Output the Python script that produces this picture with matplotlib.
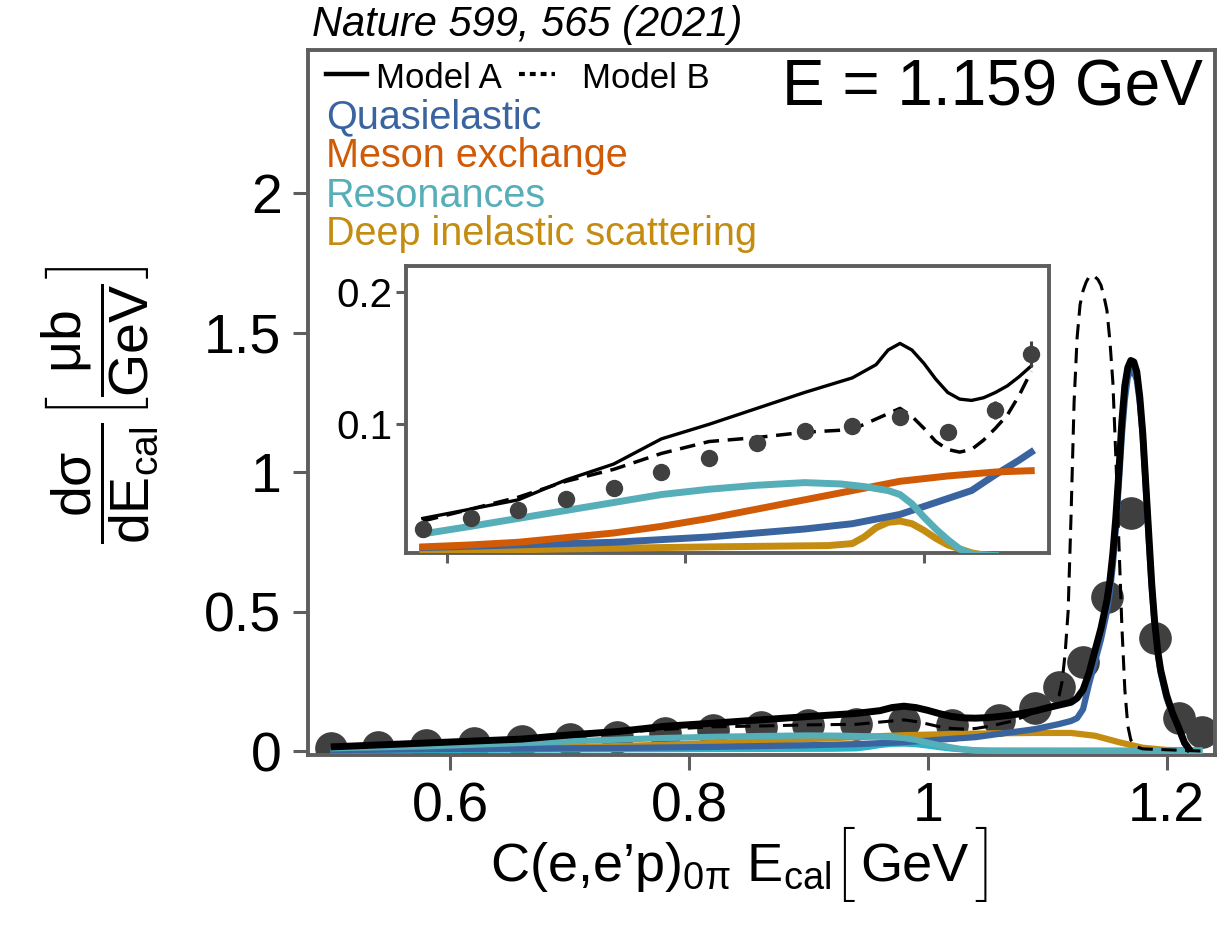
import matplotlib
matplotlib.use("Agg")
import matplotlib.pyplot as plt
from matplotlib.lines import Line2D

plt.rcParams['font.family'] = ['Liberation Sans', 'DejaVu Sans']
plt.rcParams['mathtext.fontset'] = 'custom'
plt.rcParams['mathtext.rm'] = 'Liberation Sans'
plt.rcParams['mathtext.it'] = 'Liberation Sans:italic'
plt.rcParams['mathtext.bf'] = 'Liberation Sans:bold'

# ---------------- data ----------------
data_x = [0.50, 0.54, 0.58, 0.62, 0.66, 0.70, 0.74, 0.78, 0.82, 0.86, 0.90, 0.94,
          0.98, 1.02, 1.06, 1.09, 1.11, 1.13, 1.15, 1.17, 1.19, 1.21, 1.23]
data_y = [0.012, 0.016, 0.021, 0.0296, 0.0354, 0.0437, 0.052, 0.0638, 0.0744, 0.0861,
          0.0947, 0.0987, 0.1053, 0.0942, 0.1108, 0.153, 0.229, 0.319, 0.552, 0.853,
          0.405, 0.12, 0.07]
data_err = [0.002, 0.002, 0.002, 0.002, 0.002, 0.003, 0.003, 0.003, 0.003, 0.004,
            0.004, 0.004, 0.005, 0.005, 0.007, 0.010, 0.012, 0.015, 0.02, 0.03,
            0.02, 0.01, 0.008]

modelA_x = [0.50, 0.58, 0.62, 0.66, 0.70, 0.74, 0.78, 0.82, 0.86, 0.90, 0.94, 0.96,
            0.97, 0.98, 0.99, 1.00, 1.01, 1.02, 1.03, 1.04, 1.05, 1.06, 1.07, 1.08,
            1.09, 1.10, 1.11, 1.12, 1.125, 1.13, 1.135, 1.14, 1.145, 1.15, 1.1525,
            1.155, 1.1575, 1.16, 1.1625, 1.165, 1.1675, 1.17, 1.1725, 1.175, 1.1775,
            1.18, 1.1825, 1.185, 1.1875, 1.19, 1.1925, 1.195, 1.20, 1.205, 1.21,
            1.215, 1.22]
modelA_y = [0.015, 0.029, 0.036, 0.043, 0.058, 0.070, 0.089, 0.100, 0.112, 0.124,
            0.135, 0.145, 0.156, 0.161, 0.156, 0.146, 0.134, 0.124, 0.119, 0.118,
            0.120, 0.124, 0.129, 0.136, 0.144, 0.155, 0.165, 0.175, 0.19, 0.22,
            0.28, 0.36, 0.44, 0.54, 0.61, 0.71, 0.84, 1.0, 1.18, 1.31, 1.375, 1.40,
            1.395, 1.36, 1.27, 1.14, 0.96, 0.78, 0.60, 0.46, 0.36, 0.29, 0.20, 0.135,
            0.085, 0.03, 0.0]

modelB_x = [0.50, 0.58, 0.62, 0.66, 0.70, 0.74, 0.78, 0.82, 0.86, 0.90, 0.94, 0.96,
            0.98, 0.99, 1.00, 1.01, 1.02, 1.03, 1.04, 1.05, 1.06, 1.07, 1.08, 1.09,
            1.10, 1.105, 1.11, 1.1125, 1.115, 1.1175, 1.12, 1.1225, 1.125, 1.1275,
            1.13, 1.1325, 1.135, 1.1375, 1.14, 1.1425, 1.145, 1.1475, 1.15, 1.1525,
            1.155, 1.1575, 1.16, 1.1625, 1.165, 1.1675, 1.17, 1.175, 1.18, 1.23]
modelB_y = [0.014, 0.027, 0.036, 0.045, 0.057, 0.066, 0.078, 0.087, 0.090, 0.094,
            0.096, 0.104, 0.112, 0.106, 0.097, 0.087, 0.081, 0.079, 0.081, 0.088,
            0.097, 0.107, 0.122, 0.140, 0.15, 0.165, 0.20, 0.25, 0.35, 0.50, 0.85,
            1.25, 1.48, 1.60, 1.65, 1.68, 1.70, 1.706, 1.70, 1.69, 1.67, 1.63, 1.58,
            1.47, 1.32, 1.05, 0.75, 0.45, 0.22, 0.09, 0.04, 0.015, 0.008, 0.0]

qe_x = [0.50, 0.58, 0.66, 0.74, 0.82, 0.90, 0.94, 0.98, 1.02, 1.04, 1.06, 1.08,
        1.09, 1.10, 1.11, 1.12, 1.125, 1.13, 1.135, 1.14, 1.145, 1.15, 1.1525,
        1.155, 1.1575, 1.16, 1.1625, 1.165, 1.1675, 1.17, 1.1725, 1.175, 1.1775,
        1.18, 1.1825, 1.185, 1.1875, 1.19, 1.1925, 1.195, 1.20, 1.205, 1.21, 1.215,
        1.22]
qe_y = [0.003, 0.007, 0.009, 0.011, 0.015, 0.021, 0.025, 0.032, 0.044, 0.050, 0.062,
        0.073, 0.079, 0.088, 0.097, 0.108, 0.118, 0.15, 0.24, 0.32, 0.40, 0.50, 0.57,
        0.67, 0.80, 0.96, 1.13, 1.26, 1.34, 1.365, 1.36, 1.33, 1.25, 1.13, 0.95,
        0.76, 0.59, 0.45, 0.35, 0.28, 0.19, 0.13, 0.082, 0.027, 0.0]

mec_x = [0.50, 0.58, 0.62, 0.66, 0.70, 0.74, 0.78, 0.82, 0.86, 0.90, 0.94, 0.98,
         1.02, 1.06, 1.09, 1.12, 1.14, 1.16, 1.18, 1.20, 1.23]
mec_y = [0.004, 0.0075, 0.009, 0.011, 0.0145, 0.018, 0.023, 0.029, 0.036, 0.043,
         0.050, 0.057, 0.061, 0.064, 0.065, 0.065, 0.055, 0.032, 0.012, 0.004, 0.002]

res_x = [0.50, 0.58, 0.62, 0.66, 0.70, 0.74, 0.78, 0.82, 0.86, 0.90, 0.93, 0.95,
         0.97, 0.98, 0.99, 1.00, 1.01, 1.02, 1.03, 1.04, 1.06, 1.23]
res_y = [0.010, 0.0173, 0.023, 0.029, 0.035, 0.041, 0.047, 0.051, 0.054, 0.056,
         0.055, 0.053, 0.050, 0.047, 0.040, 0.030, 0.021, 0.013, 0.006, 0.002,
         0.001, 0.001]

dis_x = [0.50, 0.58, 0.70, 0.82, 0.92, 0.94, 0.95, 0.96, 0.97, 0.98, 0.99, 1.00,
         1.01, 1.02, 1.03, 1.04, 1.05, 1.23]
dis_y = [0.002, 0.004, 0.006, 0.0075, 0.0085, 0.010, 0.015, 0.022, 0.026, 0.027,
         0.025, 0.020, 0.014, 0.009, 0.006, 0.003, 0.0015, 0.001]

component_labels = ["Quasielastic", "Meson exchange", "Resonances",
                    "Deep inelastic scattering"]

# inset shows the model curves only over this range
inset_curve_range = (0.58, 1.09)

# ---------------- styles ----------------
C_QE = "#3a64a0"
C_MEC = "#d05a06"
C_RES = "#56aeb8"
C_DIS = "#c48c10"
C_MAIN_MEC = "#c48c10"
C_MAIN_DIS = "#2ab4c8"
C_PT = "#404040"
C_SP = "#5e5e5e"

W, H = 1229, 926
fig = plt.figure(figsize=(W / 100, H / 100), dpi=100)


def fx(px):
    return px / W


def fy(py):
    return 1 - py / H


def window(xs, ys, lo, hi):
    pairs = [(a, b) for a, b in zip(xs, ys) if lo <= a <= hi]
    return [p[0] for p in pairs], [p[1] for p in pairs]


# ---------------- main axes ----------------
ax = fig.add_axes([fx(308), fy(755), (1215 - 308) / W, (755 - 50) / H])
ax.set_xlim(0.481, 1.2405)
ax.set_ylim(-0.014, 2.513)

ax.errorbar(data_x, data_y, yerr=data_err, fmt='o', ms=22.5, color=C_PT,
            ecolor=C_PT, elinewidth=2, capsize=0, zorder=2)
ax.plot(mec_x, mec_y, color=C_MAIN_MEC, lw=4.5, zorder=3, solid_capstyle='butt')
ax.plot(dis_x, dis_y, color=C_MAIN_DIS, lw=4.5, zorder=3, solid_capstyle='butt')
ax.plot(qe_x, qe_y, color=C_QE, lw=4.5, zorder=3, solid_capstyle='butt')
ax.plot(res_x, res_y, color=C_RES, lw=4.5, zorder=3.5, solid_capstyle='butt')
ax.plot(modelB_x, modelB_y, color='black', lw=2.2, ls=(0, (5, 2.8)), zorder=4)
ax.plot(modelA_x, modelA_y, color='black', lw=5, zorder=5, solid_capstyle='butt')

ax.set_xticks([0.6, 0.8, 1.0, 1.2])
ax.set_xticklabels(["0.6", "0.8", "1", "1.2"])
ax.set_yticks([0, 0.5, 1.0, 1.5, 2.0])
ax.set_yticklabels(["0", "0.5", "1", "1.5", "2"])
ax.tick_params(axis='both', labelsize=40, length=11, width=2.2, color=C_SP,
               pad=8)
for s in ax.spines.values():
    s.set_color(C_SP)
    s.set_linewidth(2.8)

# ---------------- axis labels ----------------
renderer = fig.canvas.get_renderer()
xcur = 490
xlabel_pieces = [
    (r"C(e,e’p)$_{\mathrm{0π}}$ E$_{\mathrm{cal}}$", 39, 881, 0, 'normal'),
    ("[", 56, 890, 5, 'light'),
    ("GeV", 39, 881, 7, 'normal'),
    ("]", 56, 890, 7, 'light'),
]
for txt, fs, base, gap, wt in xlabel_pieces:
    xcur += gap
    fam = ['Roboto', 'Liberation Sans'] if txt in "[]" else ['Liberation Sans', 'DejaVu Sans']
    t = fig.text(fx(xcur), fy(base), txt, fontsize=fs, ha='left',
                 va='baseline', family=fam, fontweight=wt)
    xcur += t.get_window_extent(renderer).width

fig.text(fx(100), fy(405),
         r"$\dfrac{\mathrm{dσ}}{\mathrm{dE_{cal}}}\left[\dfrac{\mathrm{μb}}{\mathrm{GeV}}\right]$",
         fontsize=40, ha='center', va='center', rotation=90)

# ---------------- header texts ----------------
fig.text(fx(312), fy(25), "Nature 599, 565 (2021)", fontsize=30,
         style='italic', ha='left', va='center')
fig.text(fx(1203), fy(89), "E = 1.159 GeV", fontsize=46, ha='right',
         va='center')

# ---------------- legend ----------------
fig.add_artist(Line2D([fx(326), fx(367)], [fy(74), fy(74)], color='black',
                      lw=3.2, transform=fig.transFigure))
fig.add_artist(Line2D([fx(519), fx(555)], [fy(74), fy(74)], color='black',
                      lw=3.0, ls=(0, (1.4, 1.2)), transform=fig.transFigure))
fig.text(fx(376), fy(88), "Model A", fontsize=25, ha='left', va='baseline')
fig.text(fx(582), fy(88), "Model B", fontsize=25, ha='left', va='baseline')
for lab, col, base in zip(component_labels, [C_QE, C_MEC, C_RES, C_DIS],
                          [128, 167, 207, 245]):
    fig.text(fx(326), fy(base), lab, fontsize=28.5, color=col, ha='left',
             va='baseline')

# ---------------- inset ----------------
ins = fig.add_axes([fx(406), fy(553), (1049 - 406) / W, (553 - 266) / H])
ins.set_xlim(0.5659, 1.1049)
ins.set_ylim(0.0029, 0.2194)
lo, hi = inset_curve_range
for xs, ys, col in [(dis_x, dis_y, C_DIS), (qe_x, qe_y, C_QE),
                    (mec_x, mec_y, C_MEC)]:
    wx, wy = window(xs, ys, lo, hi)
    ins.plot(wx, wy, color=col, lw=5, zorder=3)
wx, wy = window(res_x, res_y, lo, hi)
ins.plot(wx, wy, color=C_RES, lw=5, zorder=3.5)
wx, wy = window(modelB_x, modelB_y, lo, hi)
ins.plot(wx, wy, color='black', lw=2.5, ls=(0, (4.5, 2.5)), zorder=4)
wx, wy = window(modelA_x, modelA_y, lo, hi)
ins.plot(wx, wy, color='black', lw=2.4, zorder=5)
ins.errorbar(data_x, data_y, yerr=data_err, fmt='o', ms=11.5, color=C_PT,
             ecolor=C_PT, elinewidth=2.2, capsize=0, zorder=6)
ins.set_xticks([0.6, 0.8, 1.0])
ins.set_xticklabels([])
ins.set_yticks([0.1, 0.2])
ins.set_yticklabels(["0.1", "0.2"])
ins.tick_params(axis='both', labelsize=29, length=7, width=2.2, color=C_SP,
                pad=3)
for s in ins.spines.values():
    s.set_color(C_SP)
    s.set_linewidth(2.8)

fig.savefig("out.png", dpi=100)
